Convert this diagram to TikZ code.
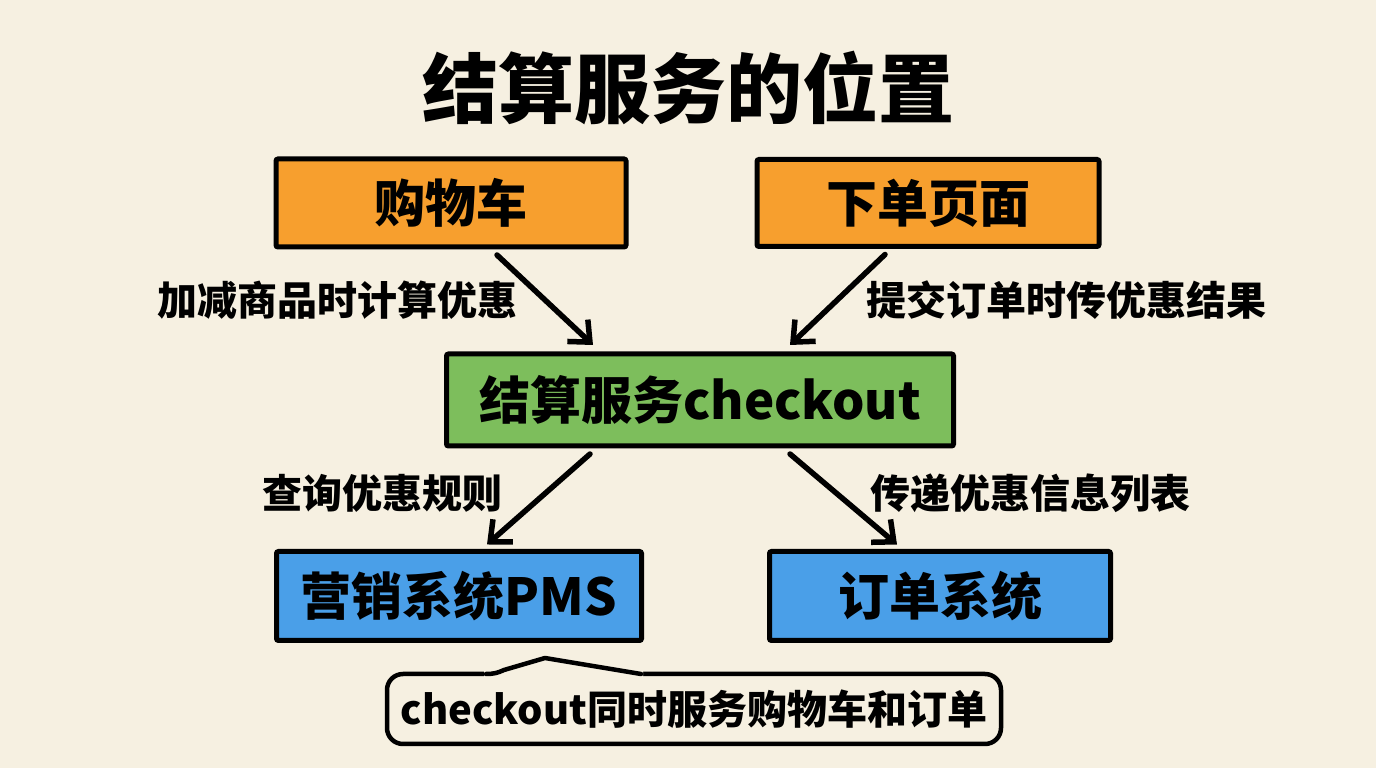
\documentclass[tikz,border=0pt]{standalone}
\usepackage{fontspec}
\usepackage{tikz}
\usetikzlibrary{arrows.meta}
\newfontfamily\cjk{Noto Sans CJK SC}
\definecolor{paper}{HTML}{F6F0E1}
\definecolor{cartorange}{HTML}{F79F2E}
\definecolor{checkgreen}{HTML}{7DBE5C}
\definecolor{sysblue}{HTML}{4A9FE8}
\begin{document}
\begin{tikzpicture}[x=1pt,y=1pt]
     \tikzstyle{every node}+=[font=\cjk\bfseries, outer sep=0pt]
     \tikzstyle{box}=[draw=black, line width=5pt, rounded corners=2pt, inner sep=0pt, font=\cjk\bfseries\fontsize{51}{56}\selectfont]
     \tikzstyle{lbl}=[font=\cjk\bfseries\fontsize{40}{46}\selectfont]
     \tikzstyle{flow}=[line width=5.5pt, line cap=round, -{Straight Barb[length=17pt,width=30pt,line width=5.5pt]}]
     \fill [paper] (0,0) rectangle (1376,768);
     \useasboundingbox (0,0) rectangle (1376,768);
     \node (title) at (688,680) {\fontsize{76}{84}\selectfont 结算服务的位置};
     \node [box, fill=cartorange, minimum width=350pt, minimum height=88pt] (cart) at (451,565) {购物车};
     \node [box, fill=cartorange, minimum width=342pt, minimum height=87pt] (page) at (928,565) {下单页面};
     \node [box, fill=checkgreen, minimum width=507pt, minimum height=92pt] (checkout) at (700,368) {结算服务checkout};
     \node [box, fill=sysblue, minimum width=365pt, minimum height=89pt] (pms) at (459,172) {营销系统PMS};
     \node [box, fill=sysblue, minimum width=341pt, minimum height=89pt] (ordersys) at (940,172) {订单系统};
     \node [lbl] (l1) at (337,468) {加减商品时计算优惠};
     \node [lbl] (l2) at (1066,468) {提交订单时传优惠结果};
     \node [lbl] (l3) at (382,275) {查询优惠规则};
     \node [lbl] (l4) at (1030,275) {传递优惠信息列表};
     \draw [flow] ([xshift=46pt,yshift=-8pt]cart.south) -- ([xshift=-107pt,yshift=9pt]checkout.north);
     \draw [flow] ([xshift=-43pt,yshift=-8pt]page.south) -- ([xshift=90pt,yshift=9pt]checkout.north);
     \draw [flow] ([xshift=-110pt,yshift=-8pt]checkout.south) -- ([xshift=28pt,yshift=7pt]pms.north);
     \draw [flow] ([xshift=90pt,yshift=-8pt]checkout.south) -- ([xshift=-43pt,yshift=7pt]ordersys.north);
     % callout under the marketing box
     \node [draw=black, line width=4.5pt, rounded corners=16pt, minimum width=614pt, minimum height=70pt, inner sep=0pt, font=\cjk\bfseries\fontsize{40}{46}\selectfont] (note) at (694,59) {checkout同时服务购物车和订单};
     \coordinate (tip) at ([xshift=-149pt,yshift=16pt]note.north);
     \fill [paper] ([xshift=-210pt,yshift=3pt]note.north) -- (tip) -- ([xshift=-51pt,yshift=3pt]note.north) -- ([xshift=-51pt,yshift=-6pt]note.north) -- ([xshift=-210pt,yshift=-6pt]note.north) -- cycle;
     \draw [line width=4.5pt, line join=round, line cap=round] ([xshift=-208pt]note.north) to[out=0,in=-155] ([xshift=-190pt,yshift=4pt]note.north) -- (tip) -- ([xshift=-53pt]note.north);
   \end{tikzpicture}
\end{document}
